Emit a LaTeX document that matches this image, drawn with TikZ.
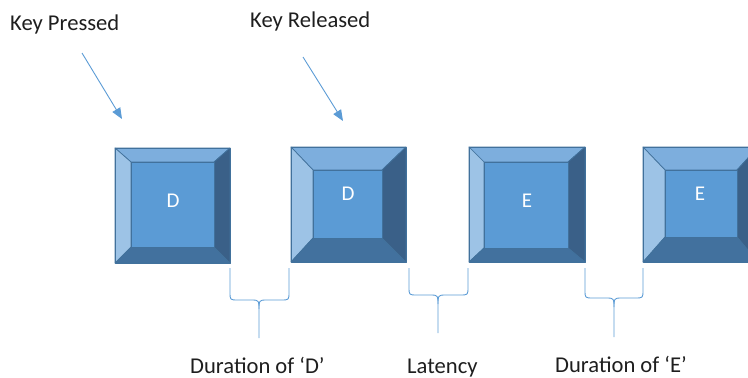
\documentclass[tikz,border=0pt]{standalone}
\usepackage{fontspec}
\setmainfont{Carlito}
\usetikzlibrary{arrows.meta}
\definecolor{face}{RGB}{91,155,213}
\definecolor{bTop}{RGB}{125,174,221}
\definecolor{bLeft}{RGB}{157,195,230}
\definecolor{bRight}{RGB}{58,96,136}
\definecolor{bBot}{RGB}{66,113,158}
\definecolor{edge}{RGB}{65,113,156}
\definecolor{accent}{RGB}{91,155,213}
\definecolor{txt}{RGB}{30,30,30}
\tikzset{
  keyline/.style={draw=edge, line width=0.7pt, line join=round},
  lbl/.style={inner sep=0pt, text=txt, font=\fontsize{22.6}{26}\selectfont},
  keylbl/.style={inner sep=0pt, text=white, font=\fontsize{21}{25}\selectfont},
  pointer/.style={draw=accent, line width=0.9pt, -{Triangle[length=11pt,width=9pt]}},
  bracel/.style={draw=accent, line width=0.9pt, line join=round},
}
% #1 x1 #2 y1 #3 x2 #4 y2 #5 ix1 #6 iy1 #7 ix2 #8 iy2
\newcommand\kbkey[8]{%
  \filldraw[fill=bTop,keyline] (#1,#2) -- (#3,#2) -- (#7,#6) -- (#5,#6) -- cycle;
  \filldraw[fill=bLeft,keyline] (#1,#2) -- (#5,#6) -- (#5,#8) -- (#1,#4) -- cycle;
  \filldraw[fill=bRight,keyline] (#3,#2) -- (#3,#4) -- (#7,#8) -- (#7,#6) -- cycle;
  \filldraw[fill=bBot,keyline] (#1,#4) -- (#3,#4) -- (#7,#8) -- (#5,#8) -- cycle;
  \filldraw[fill=face,keyline] (#5,#6) rectangle (#7,#8);
  \draw[keyline] (#1,#2) rectangle (#3,#4);
}
% brace: #1 left x, #2 right x, #3 top y, #4 bar y, #5 tip y, #6 centre x
\newcommand\kbbrace[6]{%
  \draw[bracel] (#1,#3) -- (#1,#4-8) .. controls (#1,#4) .. (#1+8,#4)
     -- (#6-7,#4) .. controls (#6,#4) and (#6,#4+1) .. (#6,#4+9) -- (#6,#5);
  \draw[bracel] (#2,#3) -- (#2,#4-8) .. controls (#2,#4) .. (#2-8,#4)
     -- (#6+7,#4) .. controls (#6,#4) and (#6,#4+1) .. (#6,#4+9);
}
\begin{document}
\begin{tikzpicture}[x=1pt,y=-1pt]
\useasboundingbox (0,0) rectangle (748,378);
\clip (0,0) rectangle (748,378);

% keys
\kbkey{115}{148}{230}{263}{131}{162}{214}{247}
\kbkey{291}{147}{406}{262}{313}{170}{382}{238}
\kbkey{469}{147}{585}{262}{484}{162}{568}{248}
\kbkey{643}{147}{758}{262}{665}{170}{737}{237}

\node[keylbl] (k1) at (173,201) {D};
\node[keylbl] (k2) at (348,194) {D};
\node[keylbl] (k3) at (527,201) {E};
\node[keylbl] (k4) at (700,194) {E};

% top labels and pointers
\node[lbl, anchor=base west] (pressed) at (10,30) {Key Pressed};
\node[lbl, anchor=base west] (released) at (250,27) {Key Released};
\coordinate (p0) at (82,53);
\coordinate (p1) at (122,119);
\coordinate (r0) at (303,57);
\coordinate (r1) at (343,121);
\draw[pointer] (p0) -- (p1);
\draw[pointer] (r0) -- (r1);

% braces
\kbbrace{230}{289}{268}{300}{338}{259}
\kbbrace{409}{468}{268}{295}{333}{438}
\kbbrace{585}{643}{268}{298}{337}{614}

% bottom labels
\node[lbl, anchor=base west] (durD) at (190,373) {Duration of ‘D’};
\node[lbl, anchor=base west] (lat) at (407,373) {Latency};
\node[lbl, anchor=base west] (durE) at (555,372) {Duration of ‘E’};
\end{tikzpicture}
\end{document}
